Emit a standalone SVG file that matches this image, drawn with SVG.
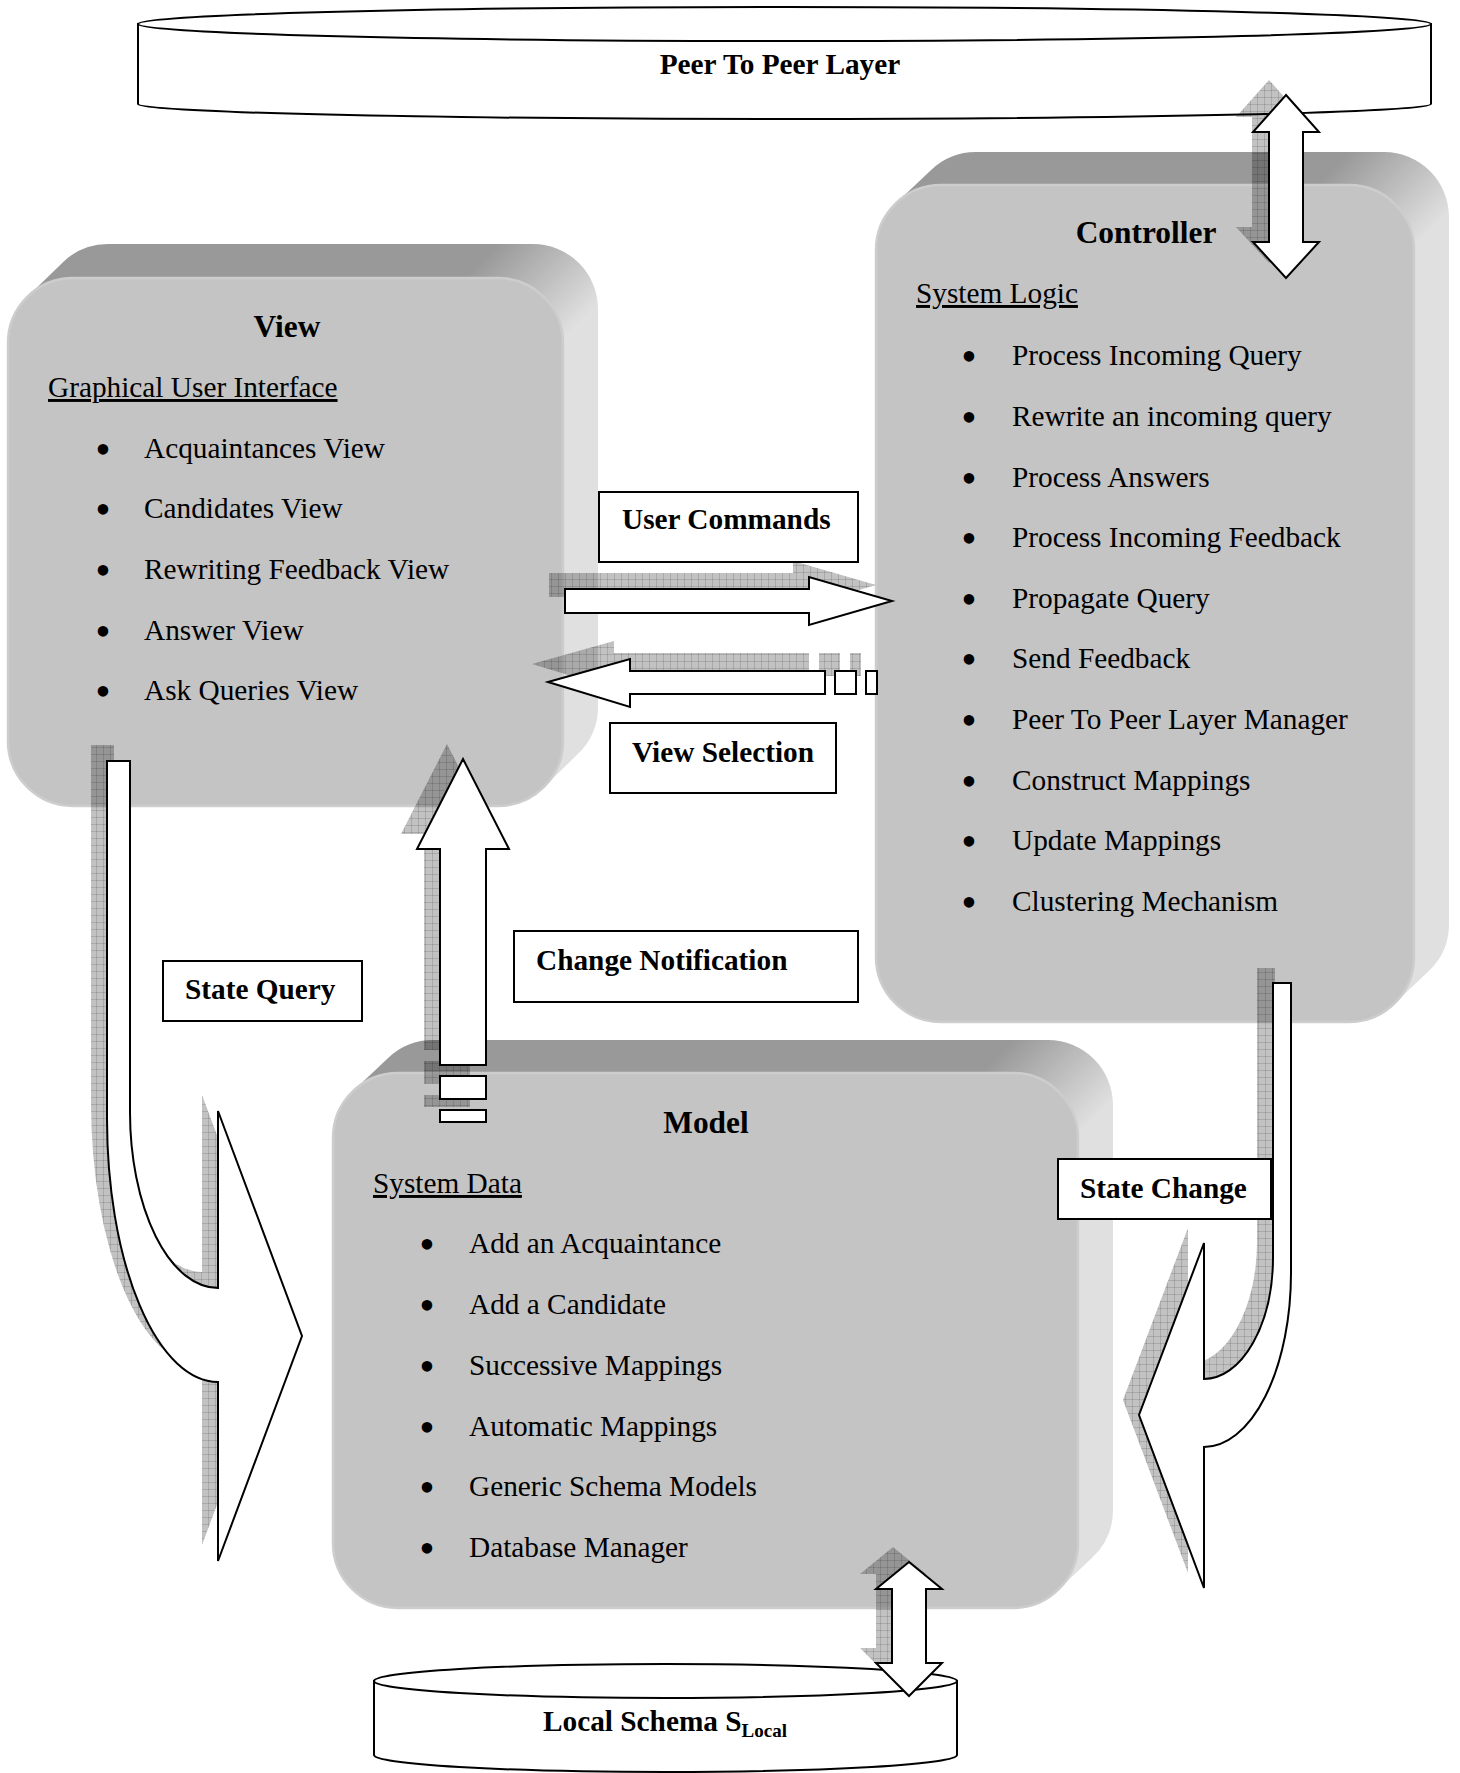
<svg xmlns="http://www.w3.org/2000/svg" xmlns:xlink="http://www.w3.org/1999/xlink" width="1460" height="1773" viewBox="0 0 1460 1773">
  <style>
    text { font-family: "Liberation Serif", "Times New Roman", serif; fill: #000; }
    .head { font-size: 31.4px; font-weight: bold; text-anchor: middle; }
    .sec { font-size: 29.3px; text-decoration: underline; }
    .item { font-size: 29.3px; }
    .bul { font-size: 44px; text-anchor: middle; }
    .lbl { font-size: 29.3px; font-weight: bold; }
    .face { fill: #c4c4c4; stroke: #cdcdcd; stroke-width: 2.5; }
    .cyl { fill: #fff; stroke: #000; stroke-width: 2; }
    .tag { fill: #fff; stroke: #000; stroke-width: 2; }
    .arrow { fill: #fff; stroke: #000; stroke-width: 2; stroke-linejoin: miter; }
    .shadow { fill: url(#hatch); stroke: none; }
  </style>
  <defs>
    <!-- cross-hatched drop shadow fill -->
    <pattern id="hatch" width="7" height="7" patternUnits="userSpaceOnUse">
      <rect width="7" height="7" fill="#000" fill-opacity="0.24"/>
      <path d="M0 0.5H7M0.5 0V7" stroke="#000" stroke-opacity="0.13" stroke-width="1"/>
    </pattern>
    <!-- extrusion shading: dark on the top band, light on the right band -->
    <linearGradient id="extView" gradientUnits="userSpaceOnUse" x1="548" y1="194" x2="628" y2="274">
      <stop offset="0" stop-color="#999"/>
      <stop offset="1" stop-color="#e0e0e0"/>
    </linearGradient>
    <linearGradient id="extCtrl" gradientUnits="userSpaceOnUse" x1="1399" y1="102" x2="1479" y2="182">
      <stop offset="0" stop-color="#999"/>
      <stop offset="1" stop-color="#e0e0e0"/>
    </linearGradient>
    <linearGradient id="extModel" gradientUnits="userSpaceOnUse" x1="1063" y1="990" x2="1143" y2="1070">
      <stop offset="0" stop-color="#999"/>
      <stop offset="1" stop-color="#e0e0e0"/>
    </linearGradient>

    <!-- connector shapes, drawn once as shadow and once as outline -->
    <path id="p2pArrow" d="M1286 95 L1319 132 L1303 132 L1303 242 L1319 242 L1286 278 L1253 242 L1269 242 L1269 132 L1253 132 Z"/>
    <path id="localArrow" d="M909 1562 L942 1589 L926 1589 L926 1663 L942 1663 L909 1696 L876 1663 L892 1663 L892 1589 L876 1589 Z"/>
    <path id="cmdArrow" d="M565 589 H809 V577 L892 601 L809 625 V613 H565 Z"/>
    <g id="selArrow">
      <path d="M548 682 L630 659 V671 H825 V694 H630 V707 Z"/>
      <rect x="835" y="671" width="21" height="23"/>
      <rect x="866" y="671" width="11" height="23"/>
    </g>
    <g id="notifyArrow">
      <path d="M463 759 L509 849 H486 V1065 H440 V849 H417 Z"/>
      <rect x="440" y="1076" width="46" height="23"/>
      <rect x="440" y="1110" width="46" height="12"/>
    </g>
    <path id="queryArrow" d="M107 761 L130 761 L130 1112 A 88 176 0 0 0 218 1288 L218 1111 L302 1336 L218 1561 L218 1382 A 111 263 0 0 1 107 1119 Z"/>
    <path id="changeArrow" d="M1273 983 L1291 983 L1291 1273 A 87 174 0 0 1 1204 1447 L1204 1588 L1139 1415 L1204 1243 L1204 1379 A 69 122 0 0 0 1273 1257 Z"/>
  </defs>

  <rect width="1460" height="1773" fill="#fff"/>

  <!-- Peer To Peer Layer (cylinder) -->
  <g id="peer-layer">
    <path class="cyl" d="M138 24 V104 A 646.5 15 0 0 0 1431 104 V24 Z"/>
    <ellipse class="cyl" cx="784.5" cy="24" rx="646.5" ry="17"/>
    <text class="lbl" x="780" y="74" text-anchor="middle">Peer To Peer Layer</text>
  </g>

  <!-- Local Schema (cylinder) -->
  <g id="local-schema">
    <path class="cyl" d="M374 1681 V1755 A 291.5 17 0 0 0 957 1755 V1681 Z"/>
    <ellipse class="cyl" cx="665.5" cy="1681" rx="291.5" ry="17"/>
    <text class="lbl" x="543" y="1731">Local Schema S<tspan font-size="19px" dy="6">Local</tspan></text>
  </g>

  <!-- View -->
  <g id="view">
    <polygon points="73,741 73,343 108,309 533,309 533,707 498,741" fill="url(#extView)" stroke="url(#extView)" stroke-width="130" stroke-linejoin="round"/>
    <rect class="face" x="8" y="278" width="555" height="528" rx="65"/>
    <text class="head" x="287" y="337">View</text>
    <text class="sec" x="48" y="397">Graphical User Interface</text>
    <g class="bul">
      <text x="103" y="464">•</text><text x="103" y="524">•</text><text x="103" y="585">•</text><text x="103" y="646">•</text><text x="103" y="706">•</text>
    </g>
    <g class="item">
      <text x="144" y="458">Acquaintances View</text>
      <text x="144" y="518">Candidates View</text>
      <text x="144" y="579">Rewriting Feedback View</text>
      <text x="144" y="640">Answer View</text>
      <text x="144" y="700">Ask Queries View</text>
    </g>
  </g>

  <!-- Controller -->
  <g id="controller">
    <polygon points="941,957 941,250 976,217 1384,217 1384,924 1349,957" fill="url(#extCtrl)" stroke="url(#extCtrl)" stroke-width="130" stroke-linejoin="round"/>
    <rect class="face" x="876" y="185" width="538" height="837" rx="65"/>
    <text class="head" x="1146" y="243">Controller</text>
    <text class="sec" x="916" y="303">System Logic</text>
    <g class="bul">
      <text x="969" y="371">•</text><text x="969" y="432">•</text><text x="969" y="493">•</text><text x="969" y="553">•</text><text x="969" y="614">•</text>
      <text x="969" y="674">•</text><text x="969" y="735">•</text><text x="969" y="796">•</text><text x="969" y="856">•</text><text x="969" y="917">•</text>
    </g>
    <g class="item">
      <text x="1012" y="365">Process Incoming Query</text>
      <text x="1012" y="426">Rewrite an incoming query</text>
      <text x="1012" y="487">Process Answers</text>
      <text x="1012" y="547">Process Incoming Feedback</text>
      <text x="1012" y="608">Propagate Query</text>
      <text x="1012" y="668">Send Feedback</text>
      <text x="1012" y="729">Peer To Peer Layer Manager</text>
      <text x="1012" y="790">Construct Mappings</text>
      <text x="1012" y="850">Update Mappings</text>
      <text x="1012" y="911">Clustering Mechanism</text>
    </g>
  </g>

  <!-- Model -->
  <g id="model">
    <polygon points="398,1543 398,1138 433,1105 1048,1105 1048,1510 1013,1543" fill="url(#extModel)" stroke="url(#extModel)" stroke-width="130" stroke-linejoin="round"/>
    <rect class="face" x="333" y="1073" width="745" height="535" rx="65"/>
    <text class="head" x="706" y="1133">Model</text>
    <text class="sec" x="373" y="1193">System Data</text>
    <g class="bul">
      <text x="427" y="1259">•</text><text x="427" y="1320">•</text><text x="427" y="1381">•</text><text x="427" y="1442">•</text><text x="427" y="1502">•</text><text x="427" y="1563">•</text>
    </g>
    <g class="item">
      <text x="469" y="1253">Add an Acquaintance</text>
      <text x="469" y="1314">Add a Candidate</text>
      <text x="469" y="1375">Successive Mappings</text>
      <text x="469" y="1436">Automatic Mappings</text>
      <text x="469" y="1496">Generic Schema Models</text>
      <text x="469" y="1557">Database Manager</text>
    </g>
  </g>

  <!-- Connectors: hatched shadows first, then the outlined arrows -->
  <g id="connectors">
    <g class="shadow">
      <use xlink:href="#p2pArrow" transform="translate(-17,-15)"/>
      <use xlink:href="#localArrow" transform="translate(-16,-15)"/>
      <use xlink:href="#cmdArrow" transform="translate(-16,-16)"/>
      <use xlink:href="#selArrow" transform="translate(-16,-18)"/>
      <use xlink:href="#notifyArrow" transform="translate(-16,-15)"/>
      <use xlink:href="#queryArrow" transform="translate(-16,-16)"/>
      <use xlink:href="#changeArrow" transform="translate(-16,-15)"/>
    </g>
    <g class="arrow">
      <use xlink:href="#p2pArrow"/>
      <use xlink:href="#localArrow"/>
      <use xlink:href="#cmdArrow"/>
      <use xlink:href="#selArrow"/>
      <use xlink:href="#notifyArrow"/>
      <use xlink:href="#queryArrow"/>
      <use xlink:href="#changeArrow"/>
    </g>
  </g>

  <!-- Connector labels -->
  <g id="label-user-commands">
    <rect class="tag" x="599" y="492" width="259" height="70"/>
    <text class="lbl" x="622" y="529">User Commands</text>
  </g>
  <g id="label-view-selection">
    <rect class="tag" x="610" y="723" width="226" height="70"/>
    <text class="lbl" x="632" y="762">View Selection</text>
  </g>
  <g id="label-change-notification">
    <rect class="tag" x="514" y="931" width="344" height="71"/>
    <text class="lbl" x="536" y="970">Change Notification</text>
  </g>
  <g id="label-state-query">
    <rect class="tag" x="163" y="961" width="199" height="60"/>
    <text class="lbl" x="185" y="999">State Query</text>
  </g>
  <g id="label-state-change">
    <rect class="tag" x="1058" y="1159" width="213" height="60"/>
    <text class="lbl" x="1080" y="1198">State Change</text>
  </g>
</svg>
